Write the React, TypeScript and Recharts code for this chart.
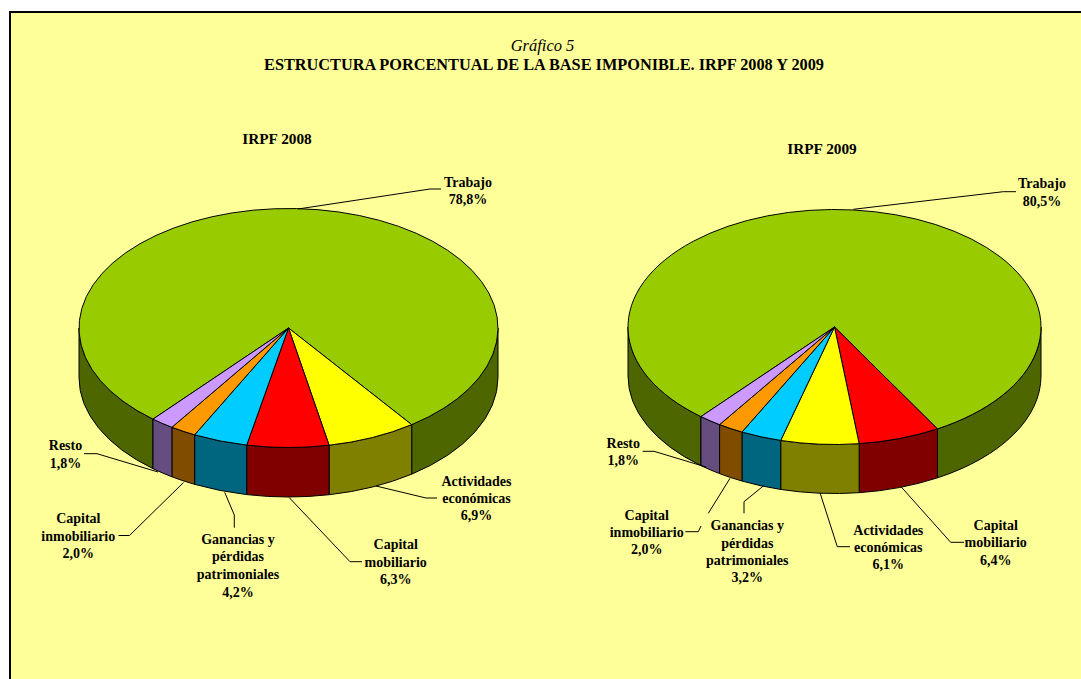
import React from 'react';
import { PieChart, Pie, Cell } from 'recharts';

const NAMES_2008 = [
  ['Trabajo'],
  ['Actividades', 'económicas'],
  ['Capital', 'mobiliario'],
  ['Ganancias y', 'pérdidas', 'patrimoniales'],
  ['Capital', 'inmobiliario'],
  ['Resto'],
];
const VALUES_2008 = [78.8, 6.9, 6.3, 4.2, 2.0, 1.8];
const COLORS_2008 = ['#99CC00', '#FFFF00', '#FF0000', '#00CCFF', '#FF9900', '#CC99FF'];
const WALLS_2008 = ['#4D6600', '#808000', '#800000', '#006680', '#804D00', '#664D80'];

const NAMES_2009 = [
  ['Trabajo'],
  ['Capital', 'mobiliario'],
  ['Actividades', 'económicas'],
  ['Ganancias y', 'pérdidas', 'patrimoniales'],
  ['Capital', 'inmobiliario'],
  ['Resto'],
];
const VALUES_2009 = [80.5, 6.4, 6.1, 3.2, 2.0, 1.8];
const COLORS_2009 = ['#99CC00', '#FF0000', '#FFFF00', '#00CCFF', '#FF9900', '#CC99FF'];
const WALLS_2009 = ['#4D6600', '#800000', '#808000', '#006680', '#804D00', '#664D80'];

const toRows = (names: string[][], values: number[]) =>
  names.map((lines, i) => ({ name: lines.join(' '), lines, value: values[i] }));

const DATA_2008 = toRows(NAMES_2008, VALUES_2008);
const DATA_2009 = toRows(NAMES_2009, VALUES_2009);

// label placement: text centre, first line y, line step, leader polylines
type Place = { x: number; y: number; step: number; lines: number[][][] };

const PLACES_2008: Place[] = [
  { x: 468, y: 182, step: 17.3, lines: [[[298, 209], [430, 189], [441, 189]]] },
  { x: 476.5, y: 481.7, step: 16.9, lines: [[[376, 486], [426, 498], [437, 498]]] },
  { x: 395.7, y: 544.7, step: 17.3, lines: [[[289.3, 497.7], [350, 561.7], [362, 561.7]]] },
  { x: 238, y: 539.3, step: 17.6, lines: [[[224.7, 492.3], [234.3, 515], [234.3, 527.7]]] },
  { x: 78.3, y: 518.7, step: 17.3, lines: [[[118.5, 535.5], [129.5, 535.5], [183.5, 482.5]]] },
  { x: 65.5, y: 445.7, step: 17.3, lines: [[[84, 453.7], [97, 453.7], [158, 472]]] },
];

const PLACES_2009: Place[] = [
  { x: 1042, y: 183.3, step: 18, lines: [[[853.3, 209.3], [1003.3, 191.7], [1016, 191.7]]] },
  { x: 995.7, y: 525.7, step: 17.2, lines: [[[901, 486.7], [950.7, 542.3], [964, 542.3]]] },
  { x: 888.3, y: 530.7, step: 16.9, lines: [[[820, 492.7], [837.3, 546.7], [850, 546.7]]] },
  { x: 747.3, y: 525.7, step: 17.3, lines: [[[763.3, 486], [744, 501.7], [744, 513.3]]] },
  {
    x: 646.7,
    y: 515,
    step: 17.2,
    lines: [
      [[685.3, 531.7], [698.3, 531.7], [701, 526]],
      [[708.3, 513.3], [730, 478.3]],
    ],
  },
  { x: 623.3, y: 443.3, step: 17.4, lines: [[[642.7, 451.3], [654, 451.3], [706, 467]]] },
];

const RAD = Math.PI / 180;
const FONT = '"Liberation Serif", "Times New Roman", serif';

const point = (cx: number, cy: number, rx: number, ry: number, deg: number) => [
  cx + rx * Math.cos(deg * RAD),
  cy - ry * Math.sin(deg * RAD),
];

// sector lying in the tilted plane; angles run clockwise from start to end
const topPath = (cx: number, cy: number, rx: number, ry: number, start: number, end: number) => {
  const [x1, y1] = point(cx, cy, rx, ry, start);
  const [x2, y2] = point(cx, cy, rx, ry, end);
  const large = Math.abs(start - end) > 180 ? 1 : 0;
  return `M${cx},${cy}L${x1},${y1}A${rx},${ry} 0 ${large} 1 ${x2},${y2}Z`;
};

// the visible rim only exists on the front half of the ellipse
const wallPath = (
  cx: number, cy: number, rx: number, ry: number, depth: number, start: number, end: number,
) => {
  let d = '';
  [[360, 180], [0, -180]].forEach(([hi, lo]) => {
    const a = Math.min(start, hi);
    const b = Math.max(end, lo);
    if (a <= b) return;
    const [x1, y1] = point(cx, cy, rx, ry, a);
    const [x2, y2] = point(cx, cy, rx, ry, b);
    d += `M${x1},${y1}A${rx},${ry} 0 0 1 ${x2},${y2}L${x2},${y2 + depth}`;
    d += `A${rx},${ry} 0 0 0 ${x1},${y1 + depth}Z`;
  });
  return d;
};

const topShape = (ry: number) => (p: any) => (
  <path
    d={topPath(p.cx, p.cy, p.outerRadius, ry, p.startAngle, p.endAngle)}
    fill={p.fill}
    stroke="#000"
    strokeWidth={1}
  />
);

const wallShape = (ry: number, depth: number) => (p: any) => (
  <path
    d={wallPath(p.cx, p.cy, p.outerRadius, ry, depth, p.startAngle, p.endAngle)}
    fill={p.fill}
    stroke="#000"
    strokeWidth={1}
  />
);

const sliceLabel = (places: Place[]) => (p: any) => {
  const place = places[p.index];
  const rows = [...p.payload.lines, `${p.value.toFixed(1).replace('.', ',')}%`];
  return (
    <g key={p.index}>
      {place.lines.map((pts, i) => (
        <polyline
          key={i}
          points={pts.map((q) => q.join(',')).join(' ')}
          fill="none"
          stroke="#000"
          strokeWidth={1}
        />
      ))}
      {rows.map((row: string, i: number) => (
        <text
          key={i}
          x={place.x}
          y={place.y + i * place.step}
          textAnchor="middle"
          dominantBaseline="central"
          fontFamily={FONT}
          fontWeight="bold"
          fontSize={14}
          fill="#000"
        >
          {row}
        </text>
      ))}
    </g>
  );
};

export default function App() {
  return (
    <div
      style={{ position: 'absolute', left: 0, top: 0, width: 1081, height: 679, overflow: 'hidden', background: '#fff' }}
    >
      <div
        style={{
          position: 'absolute',
          left: 9,
          top: 11,
          width: 1200,
          height: 800,
          background: '#FFFF99',
          borderLeft: '2px solid #000',
          borderTop: '2px solid #000',
        }}
      />
      <div style={{ position: 'absolute', left: 0, top: 0 }}>
        <PieChart width={1081} height={679} margin={{ top: 0, right: 0, bottom: 0, left: 0 }}>
          <text x={542.5} y={45} textAnchor="middle" dominantBaseline="central" fontFamily={FONT} fontStyle="italic" fontSize={16.5}>
            Gráfico 5
          </text>
          <text x={544} y={64} textAnchor="middle" dominantBaseline="central" fontFamily={FONT} fontWeight="bold" fontSize={16.3}>
            ESTRUCTURA PORCENTUAL DE LA BASE IMPONIBLE. IRPF 2008 Y 2009
          </text>
          <text x={277} y={138.5} textAnchor="middle" dominantBaseline="central" fontFamily={FONT} fontWeight="bold" fontSize={15.3}>
            IRPF 2008
          </text>
          <text x={822} y={148} textAnchor="middle" dominantBaseline="central" fontFamily={FONT} fontWeight="bold" fontSize={15.3}>
            IRPF 2009
          </text>

          <Pie
            data={DATA_2008}
            dataKey="value"
            cx={288.5}
            cy={328}
            outerRadius={209.5}
            startAngle={229.7}
            endAngle={-130.3}
            paddingAngle={0}
            shape={wallShape(119.5, 49.5)}
            isAnimationActive={false}
            legendType="none"
          >
            {WALLS_2008.map((c) => <Cell key={c} fill={c} />)}
          </Pie>
          <Pie
            data={DATA_2008}
            dataKey="value"
            cx={288.5}
            cy={328}
            outerRadius={209.5}
            startAngle={229.7}
            endAngle={-130.3}
            paddingAngle={0}
            shape={topShape(119.5)}
            label={sliceLabel(PLACES_2008)}
            labelLine={false}
            isAnimationActive={false}
            legendType="none"
          >
            {COLORS_2008.map((c) => <Cell key={c} fill={c} />)}
          </Pie>

          <Pie
            data={DATA_2009}
            dataKey="value"
            cx={834.5}
            cy={327}
            outerRadius={206.5}
            startAngle={229.7}
            endAngle={-130.3}
            paddingAngle={0}
            shape={wallShape(117.5, 49)}
            isAnimationActive={false}
            legendType="none"
          >
            {WALLS_2009.map((c) => <Cell key={c} fill={c} />)}
          </Pie>
          <Pie
            data={DATA_2009}
            dataKey="value"
            cx={834.5}
            cy={327}
            outerRadius={206.5}
            startAngle={229.7}
            endAngle={-130.3}
            paddingAngle={0}
            shape={topShape(117.5)}
            label={sliceLabel(PLACES_2009)}
            labelLine={false}
            isAnimationActive={false}
            legendType="none"
          >
            {COLORS_2009.map((c) => <Cell key={c} fill={c} />)}
          </Pie>
        </PieChart>
      </div>
    </div>
  );
}
